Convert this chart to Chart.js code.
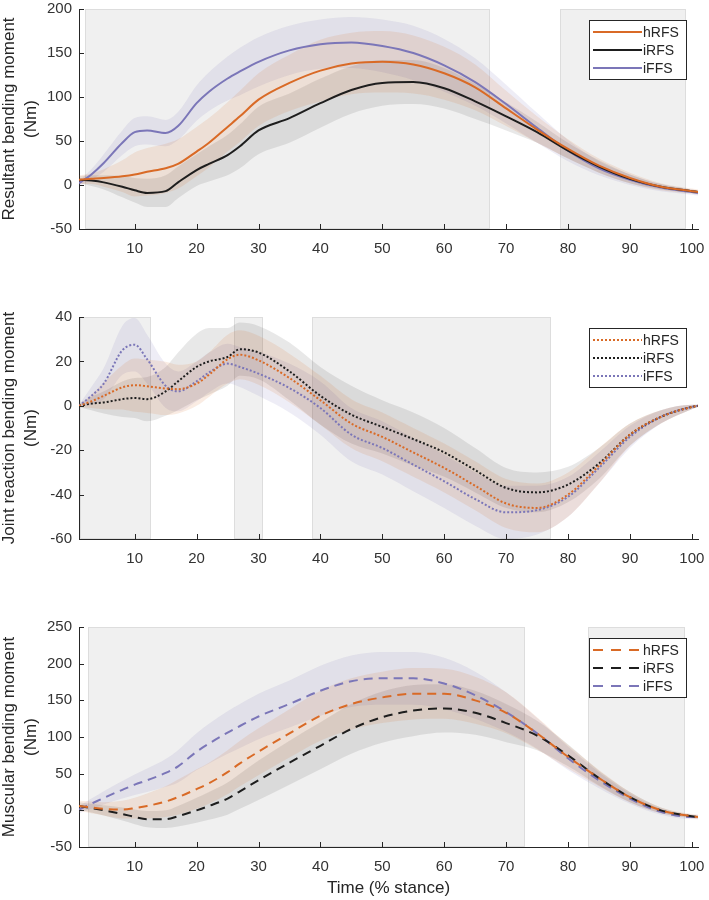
<!DOCTYPE html>
<html>
<head>
<meta charset="utf-8">
<script src="https://cdn.jsdelivr.net/npm/chart.js@4.4.1/dist/chart.umd.min.js"></script>
<style>
  body { margin: 0; background: #fff; overflow: hidden; }
  #wrap { position: relative; width: 709px; height: 900px; overflow: hidden; }
  canvas { position: absolute; left: 0; }
</style>
</head>
<body>
<div id="wrap">
  <canvas id="c1" width="709" height="310" style="top:-20px"></canvas>
  <canvas id="c2" width="709" height="290" style="top:290px"></canvas>
  <canvas id="c3" width="709" height="320" style="top:580px"></canvas>
</div>
<script>
// % stance sample points
var stance = [1, 3, 5, 8, 10, 12, 15, 17, 20, 22, 25, 27, 30, 35, 40, 45, 50, 55, 60, 65, 70, 75, 80, 85, 90, 95, 100, 101];
var xTicks = [10, 20, 30, 40, 50, 60, 70, 80, 90, 100];
var groups = ['hRFS', 'iRFS', 'iFFS'];

// resultant bending moment (Nm), mean and SD
var resH = [6, 7, 8, 10, 12, 15, 19, 24, 38, 48, 66, 78, 97, 116, 130, 138, 140, 137, 127, 111, 87, 63, 41, 22, 8, -2, -7, -8];
var resI = [6, 5, 3, -2, -6, -9, -7, 3, 17, 24, 34, 44, 62, 76, 93, 108, 116, 117, 110, 95, 78, 60, 39, 21, 7, -2, -7, -8];
var resF = [2, 12, 25, 48, 60, 62, 59, 67, 93, 106, 121, 129, 140, 153, 160, 162, 158, 150, 136, 117, 92, 65, 39, 19, 6, -3, -8, -9];
var resHsd = [5, 6, 10, 18, 25, 27, 28, 28, 28, 28, 28, 29, 30, 32, 35, 35, 35, 33, 30, 26, 20, 15, 11, 8, 6, 4, 3, 3];
var resIsd = [4, 6, 8, 12, 14, 16, 18, 18, 18, 20, 23, 25, 27, 28, 28, 27, 26, 25, 23, 20, 16, 12, 9, 7, 5, 3, 2, 2];
var resFsd = [3, 6, 10, 14, 16, 16, 15, 16, 20, 22, 25, 27, 28, 28, 28, 29, 30, 31, 30, 27, 22, 17, 12, 8, 6, 4, 3, 3];

// joint reaction bending moment (Nm)
var jrH = [0, 2, 4.5, 8.3, 9.3, 8.8, 7.8, 7.5, 10, 14, 21, 23, 20.5, 12.5, 2.5, -8, -14, -21, -28, -36, -44, -46, -40, -27, -13, -5, -0.5, 0];
var jrI = [0, 1, 1.5, 3, 3.5, 3, 6.5, 11, 17.5, 20, 22, 25.5, 24, 15.5, 4.5, -4, -9.5, -15, -21, -29, -37, -39, -35.5, -26, -13, -5, -0.5, 0];
var jrF = [0, 4.5, 10, 25, 27.5, 21, 9, 6.5, 11, 15, 19, 17.5, 14.5, 8, -1, -13, -19, -26.5, -34, -42, -48, -47, -41, -28, -14, -5, -0.5, 0];
var jrHsd = [0.5, 3, 6, 10, 12, 12, 12, 11, 10, 10, 11, 11, 11, 11, 11, 11, 11, 11, 11, 11, 11, 11, 10, 8, 5, 3, 1, 0.5];
var jrIsd = [0.5, 3, 5, 8, 9, 10, 11, 13, 15, 15, 13, 12, 12, 13, 13, 13, 12, 12, 11, 10, 9, 9, 8, 7, 5, 3, 1, 0.5];
var jrFsd = [0.5, 4, 7, 11, 12, 11, 10, 9, 9, 9, 9, 9, 10, 11, 12, 12, 12, 12, 12, 12, 12, 11, 9, 7, 5, 3, 1, 0.5];

// muscular bending moment (Nm)
var musH = [6, 4, 2, 1, 3, 6, 12, 18, 29, 37, 52, 64, 80, 105, 129, 145, 154, 159, 159, 150, 133, 105, 73, 44, 18, 0, -8, -9];
var musI = [6, 3, 0, -5, -9, -12, -12, -8, 0, 6, 16, 26, 41, 65, 88, 111, 127, 136, 139, 133, 119, 102, 75, 44, 18, 0, -8, -9];
var musF = [1, 9, 17, 28, 35, 41, 51, 60, 80, 91, 106, 115, 128, 145, 163, 176, 180, 180, 173, 157, 134, 105, 71, 41, 16, -2, -9, -9];
var musHsd = [7, 8, 9, 12, 14, 17, 21, 24, 27, 28, 30, 31, 32, 33, 34, 35, 35, 35, 34, 32, 28, 22, 16, 11, 7, 4, 3, 3];
var musIsd = [5, 6, 7, 9, 10, 11, 12, 14, 17, 19, 22, 24, 27, 30, 32, 34, 35, 35, 33, 30, 26, 20, 15, 10, 7, 4, 2, 2];
var musFsd = [5, 7, 9, 12, 14, 16, 19, 22, 25, 27, 29, 30, 31, 32, 34, 35, 36, 36, 35, 32, 27, 21, 16, 11, 7, 4, 3, 3];

// significant regions (% stance)
var sigRes = [[2, 67.4], [78.7, 99]];
var sigJr = [[1.2, 12.7], [26, 30.8], [38.6, 77.2]];
var sigMus = [[2.4, 73.1], [83.3, 98.9]];

var colors = ['#d96a26', '#1e1e1e', '#7b76b8'];
var bands = ['rgba(217,106,38,0.13)', 'rgba(0,0,0,0.09)', 'rgba(123,118,184,0.13)'];
var fam = '"Liberation Sans", Arial, sans-serif';
var axisCol = '#262626';
Chart.defaults.font.family = fam;

function pts(mean, sd, sign) {
  return stance.map(function (x, i) { return {x: x, y: mean[i] + sign * sd[i]}; });
}

// grey boxes behind everything (drawn before the axes)
var sigPlugin = {
  id: 'sig',
  beforeDraw: function (chart, args, opts) {
    var ctx = chart.ctx, xs = chart.scales.x, a = chart.chartArea;
    ctx.save();
    opts.regions.forEach(function (r) {
      var x0 = Math.round(xs.getPixelForValue(r[0])), x1 = Math.round(xs.getPixelForValue(r[1]));
      ctx.fillStyle = '#f0f0f0';
      ctx.fillRect(x0, a.top, x1 - x0, a.bottom - a.top);
      ctx.strokeStyle = '#dddddd';
      ctx.lineWidth = 1;
      ctx.strokeRect(x0 + 0.5, a.top + 0.5, x1 - x0 - 1, a.bottom - a.top - 1);
    });
    ctx.restore();
  }
};

// matlab style ticks pointing into the plot
var tickPlugin = {
  id: 'inTicks',
  afterDatasetsDraw: function (chart) {
    var ctx = chart.ctx, a = chart.chartArea;
    ctx.save();
    ctx.strokeStyle = axisCol;
    ctx.lineWidth = 1;
    ctx.beginPath();
    chart.scales.x.ticks.forEach(function (t) {
      var px = Math.round(chart.scales.x.getPixelForValue(t.value)) + 0.5;
      ctx.moveTo(px, a.bottom);
      ctx.lineTo(px, a.bottom - 5);
    });
    chart.scales.y.ticks.forEach(function (t) {
      var py = Math.round(chart.scales.y.getPixelForValue(t.value)) + 0.5;
      ctx.moveTo(a.left, py);
      ctx.lineTo(a.left + 5, py);
    });
    ctx.stroke();
    ctx.restore();
  }
};

var boxLegend = {
  id: 'boxLegend',
  afterDraw: function (chart, args, opts) {
    var ctx = chart.ctx, a = chart.chartArea;
    var w = 97, h = 59, x = a.right - 12 - w, y = a.top + opts.top;
    ctx.save();
    ctx.fillStyle = '#fff';
    ctx.fillRect(x, y, w, h);
    ctx.strokeStyle = axisCol;
    ctx.lineWidth = 1;
    ctx.strokeRect(x + 0.5, y + 0.5, w, h);
    ctx.font = '14px ' + fam;
    ctx.textBaseline = 'middle';
    chart.data.datasets.slice(0, 3).forEach(function (d, k) {
      var ly = y + 12 + k * 18;
      ctx.strokeStyle = d.borderColor;
      ctx.lineWidth = 2;
      ctx.setLineDash(opts.dash);
      ctx.beginPath();
      ctx.moveTo(x + 4, ly);
      ctx.lineTo(x + 53, ly);
      ctx.stroke();
      ctx.setLineDash([]);
      ctx.fillStyle = axisCol;
      ctx.fillText(d.label, x + 54, ly + 1);
    });
    ctx.restore();
  }
};

function makePanel(id, means, sds, dash, legDash, yMin, yMax, yStep, yTitle, regions, padTop, xHeight, xTitle) {
  var datasets = [];
  means.forEach(function (m, k) {
    datasets.push({
      label: groups[k], data: pts(m, sds[k], 0), borderColor: colors[k], borderWidth: 2,
      borderDash: dash, pointRadius: 0, fill: false, cubicInterpolationMode: 'monotone'
    });
  });
  means.forEach(function (m, k) {
    datasets.push({
      label: groups[k] + ' +SD', data: pts(m, sds[k], 1), borderColor: 'rgba(0,0,0,0)',
      pointRadius: 0, fill: false, cubicInterpolationMode: 'monotone'
    });
    datasets.push({
      label: groups[k] + ' -SD', data: pts(m, sds[k], -1), borderColor: 'rgba(0,0,0,0)',
      pointRadius: 0, fill: '-1', backgroundColor: bands[k], cubicInterpolationMode: 'monotone'
    });
  });

  return new Chart(document.getElementById(id), {
    type: 'line',
    data: { datasets: datasets },
    plugins: [sigPlugin, tickPlugin, boxLegend],
    options: {
      responsive: false,
      animation: false,
      events: [],
      layout: { padding: { top: padTop, right: 11, left: 0, bottom: 0 } },
      plugins: {
        legend: { display: false },
        tooltip: { enabled: false },
        sig: { regions: regions },
        boxLegend: { top: 11, dash: legDash }
      },
      scales: {
        x: {
          type: 'linear', min: 1, max: 101,
          afterBuildTicks: function (s) { s.ticks = xTicks.map(function (v) { return {value: v}; }); },
          afterFit: function (s) {
            s.height = xHeight;
            s.paddingLeft = 0;
            s.paddingRight = 0;
          },
          grid: { display: false, drawTicks: false },
          border: { display: true, color: axisCol, width: 1 },
          ticks: { padding: 11, color: '#333', font: { size: 15 }, maxRotation: 0, autoSkip: false },
          title: {
            display: !!xTitle, text: xTitle || '', color: axisCol,
            font: { size: 17, lineHeight: 1.2 }, padding: { top: 0, bottom: 1 }
          }
        },
        y: {
          min: yMin, max: yMax,
          afterFit: function (s) { s.width = 79; },
          grid: { display: false, drawTicks: false },
          border: { display: true, color: axisCol, width: 1 },
          ticks: { stepSize: yStep, padding: 7, color: '#333', font: { size: 15 } },
          title: {
            display: true, text: [yTitle, '(Nm)'], color: axisCol,
            font: { size: 17, lineHeight: 1.3 }, padding: { top: -2, bottom: 0 }
          }
        }
      }
    }
  });
}

makePanel('c1', [resH, resI, resF], [resHsd, resIsd, resFsd], [], [],
  -50, 200, 50, 'Resultant bending moment', sigRes, 29, 61, null);
makePanel('c2', [jrH, jrI, jrF], [jrHsd, jrIsd, jrFsd], [2, 2], [2, 2],
  -60, 40, 20, 'Joint reaction bending moment', sigJr, 27, 41, null);
makePanel('c3', [musH, musI, musF], [musHsd, musIsd, musFsd], [9, 6], [10, 8],
  -50, 250, 50, 'Muscular bending moment', sigMus, 47, 53, 'Time (% stance)');
</script>
</body>
</html>
